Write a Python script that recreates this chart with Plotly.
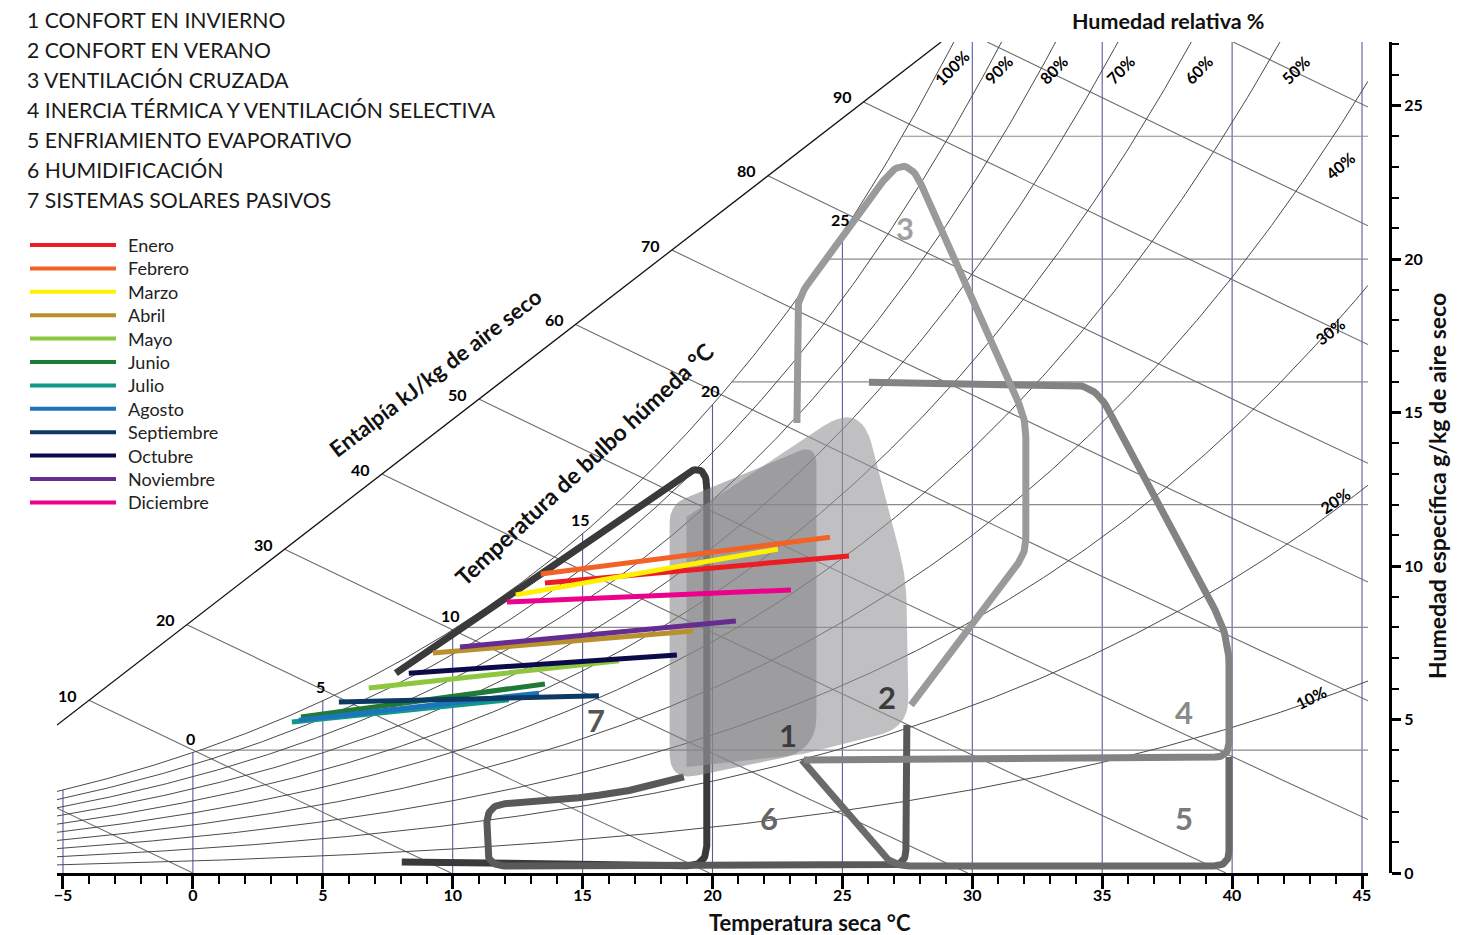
import numpy as np
import plotly.graph_objects as go

# ---------------- data ----------------
MONTHS = ["Enero", "Febrero", "Marzo", "Abril", "Mayo", "Junio", "Julio",
          "Agosto", "Septiembre", "Octubre", "Noviembre", "Diciembre"]
MONTH_COLORS = ["#ed1c24", "#f26227", "#fff200", "#b8902c", "#8dc63f", "#1f7a35",
                "#10998a", "#1c75bc", "#0d3a63", "#0b0b4a", "#662d91", "#ec008c"]
# each month: (T at min temperature, W) -> (T at max temperature, W)
T_LOW = [13.55, 13.39, 12.43, 9.24, 6.77, 4.16, 3.81, 4.08, 5.62, 8.31, 10.28, 12.09]
W_LOW = [9.45, 9.74, 9.06, 7.17, 6.03, 5.08, 4.92, 4.98, 5.57, 6.51, 7.36, 8.83]
T_HIGH = [25.25, 24.52, 22.52, 19.25, 16.40, 13.55, 12.16, 13.32, 15.63, 18.63, 20.90, 23.02]
W_HIGH = [10.33, 10.94, 10.55, 7.88, 6.91, 6.16, 5.64, 5.86, 5.77, 7.10, 8.21, 9.22]

RH_LEVELS = [0.1, 0.2, 0.3, 0.4, 0.5, 0.6, 0.7, 0.8, 0.9, 1.0]
RH_LABELS = ["10%", "20%", "30%", "40%", "50%", "60%", "70%", "80%", "90%", "100%"]
ENTHALPY_LEVELS = [0, 10, 20, 30, 40, 50, 60, 70, 80, 90, 100, 110]
ENTHALPY_LABELED = [10, 20, 30, 40, 50, 60, 70, 80, 90]
WET_BULB_LABELED = [0, 5, 10, 15, 20, 25]
DRY_BULB_LINES = [-5, 0, 5, 10, 15, 20, 25, 30, 35, 40, 45]
HUMIDITY_LINES = [4, 8, 12, 16, 20, 24]

ZONE_NAMES = ["1 CONFORT EN INVIERNO", "2 CONFORT EN VERANO", "3 VENTILACIÓN CRUZADA",
              "4 INERCIA TÉRMICA Y VENTILACIÓN SELECTIVA", "5 ENFRIAMIENTO EVAPORATIVO",
              "6 HUMIDIFICACIÓN", "7 SISTEMAS SOLARES PASIVOS"]

# zone outlines (dry bulb °C, humidity g/kg)
Z1_T = [18.35, 24.0, 24.0, 18.35]
Z1_W = [12.0, 14.0, 3.98, 2.99]
Z2_T = [19.0, 19.0, 25.7, 27.45, 27.56, 23.6]
Z2_W = [3.45, 11.6, 15.36, 9.64, 4.75, 3.88]
Z3_T = [23.25, 23.25, 27.44, 32.06, 32.06, 27.64]
Z3_W = [14.66, 18.7, 23.55, 14.79, 10.42, 5.47]
Z4_T = [26.02, 34.72, 39.88, 39.88, 23.52]
Z4_W = [15.99, 15.9, 7.72, 3.78, 3.68]
Z5_T = [23.44, 26.9, 39.88, 39.88]
Z5_W = [3.68, 0.23, 0.23, 3.78]
Z6_T = [18.9, 17.17, 15.24, 11.32, 11.32, 27.44, 27.48]
Z6_W = [3.13, 2.74, 2.48, 2.21, 0.23, 0.23, 4.82]
Z7_T = [7.81, 19.78, 19.78, 8.04]
Z7_W = [6.51, 13.49, 0.23, 0.36]

# ---------------- geometry ----------------
FIG_W, FIG_H = 1477, 935
OFF = 8  # page body margin
X0_PX, X1_PX = 57, 1368
Y0_PX, Y1_PX = 873, 42
T_MIN, T_MAX = -5.23, 45.23
W_MIN, W_MAX = 0.0, 27.07
SX = (X1_PX - X0_PX) / (T_MAX - T_MIN)
SY = (Y0_PX - Y1_PX) / (W_MAX - W_MIN)
P_ATM = 97.5
DIAG_T = [T_MIN, 28.8]
DIAG_W = [4.82, W_MAX]
FONT = "Lato"


def px(x):
    return (x - OFF) / FIG_W


def py(y):
    return 1 - (y - OFF) / FIG_H


def ps(T):
    return 0.61094 * np.exp(17.625 * T / (T + 243.04))


def w_rh(T, phi):
    pv = phi * ps(T)
    return 622.0 * pv / (P_ATM - pv)


def t_of_w(W, phi=1.0):
    pv = W * P_ATM / (622.0 + W)
    x = np.log(pv / phi / 0.61094)
    return 243.04 * x / (17.625 - x)


def enth(T, W):
    return 1.006 * T + W * (2.501 + 0.00186 * T)


def w_of_h(h, T):
    return (h - 1.006 * T) / (2.501 + 0.00186 * T)


def t_of_h(h, W):
    return (h - 2.501 * W) / (1.006 + 0.00186 * W)


def diag_point(h):
    f = lambda s: enth(DIAG_T[0] + s * (DIAG_T[1] - DIAG_T[0]),
                       DIAG_W[0] + s * (DIAG_W[1] - DIAG_W[0])) - h
    lo, hi = 0.0, 1.0
    for _ in range(60):
        mid = 0.5 * (lo + hi)
        if f(mid) < 0:
            lo = mid
        else:
            hi = mid
    s = 0.5 * (lo + hi)
    return DIAG_T[0] + s * (DIAG_T[1] - DIAG_T[0]), DIAG_W[0] + s * (DIAG_W[1] - DIAG_W[0])


def rounded(ts, ws, radii, closed=False):
    pts = [np.array([t * SX, w * SY]) for t, w in zip(ts, ws)]
    n = len(pts)
    out = []
    for i in range(n):
        v = pts[i]
        if (not closed and (i == 0 or i == n - 1)) or radii[i] <= 0:
            out.append(v)
            continue
        prev = pts[i - 1]
        nxt = pts[(i + 1) % n]
        d1 = np.linalg.norm(prev - v)
        d2 = np.linalg.norm(nxt - v)
        r1 = min(radii[i], d1 * 0.5)
        r2 = min(radii[i], d2 * 0.5)
        a = v + (prev - v) * r1 / d1
        b = v + (nxt - v) * r2 / d2
        for k in range(17):
            t = k / 16
            out.append((1 - t) ** 2 * a + 2 * (1 - t) * t * v + t ** 2 * b)
    if closed:
        out.append(out[0])
    arr = np.array(out)
    return arr[:, 0] / SX, arr[:, 1] / SY


fig = go.Figure()


def add_line(T, W, color, width):
    fig.add_trace(go.Scatter(x=list(T), y=list(W), mode="lines",
                             line=dict(color=color, width=width),
                             hoverinfo="skip", showlegend=False))


# ---------------- psychrometric grid ----------------
for t in DRY_BULB_LINES:
    add_line([t, t], [0, min(w_rh(t, 1.0), W_MAX)], "#5b5b9c", 1.1)

for w in HUMIDITY_LINES:
    add_line([t_of_w(w), T_MAX], [w, w], "#8a8a8a", 1.2)

h_diag_lo = enth(DIAG_T[0], DIAG_W[0])
h_diag_hi = enth(DIAG_T[1], DIAG_W[1])
for h in ENTHALPY_LEVELS:
    if h < h_diag_lo:
        t0 = T_MIN
    elif h > h_diag_hi:
        t0 = t_of_h(h, W_MAX)
    else:
        t0 = diag_point(h)[0]
    t1 = min(h / 1.006, T_MAX)
    tt = np.linspace(t0, t1, 40)
    add_line(tt, w_of_h(h, tt), "#6e6e6e", 1.1)

for phi in RH_LEVELS:
    t_end = min(T_MAX, t_of_w(W_MAX, phi))
    tt = np.linspace(T_MIN, t_end, 300)
    add_line(tt, w_rh(tt, phi), "#4a4a4a", 1.0)

add_line(DIAG_T, DIAG_W, "#111111", 1.3)

# ---------------- zone outlines ----------------
zx, zy = rounded(Z7_T, Z7_W, [0, 30, 20, 0])
add_line(zx, zy, "#3a3a3a", 7)
zx, zy = rounded(Z6_T, Z6_W, [0, 10, 10, 18, 18, 16, 0])
add_line(zx, zy, "#595959", 7)
zx, zy = rounded(Z5_T, Z5_W, [0, 18, 15, 0])
add_line(zx, zy, "#6a6a6a", 7)
zx, zy = rounded(Z4_T, Z4_W, [0, 25, 30, 14, 0])
add_line(zx, zy, "#838383", 7)
zx, zy = rounded(Z3_T, Z3_W, [0, 18, 38, 18, 14, 0])
add_line(zx, zy, "#9a9a9a", 7)

# ---------------- comfort fills ----------------
zx, zy = rounded(Z2_T, Z2_W, [0, 0, 45, 25, 30, 10], closed=True)
fig.add_trace(go.Scatter(x=list(zx), y=list(zy), mode="lines", fill="toself",
                         fillcolor="rgba(150,150,153,0.6)", line=dict(width=0),
                         hoverinfo="skip", showlegend=False))
zx, zy = rounded(Z1_T, Z1_W, [18, 22, 35, 28], closed=True)
fig.add_trace(go.Scatter(x=list(zx), y=list(zy), mode="lines", fill="toself",
                         fillcolor="rgba(128,128,131,0.55)", line=dict(width=0),
                         hoverinfo="skip", showlegend=False))

# ---------------- monthly lines ----------------
for i, m in enumerate(MONTHS):
    fig.add_trace(go.Scatter(x=[T_LOW[i], T_HIGH[i]], y=[W_LOW[i], W_HIGH[i]], mode="lines",
                             line=dict(color=MONTH_COLORS[i], width=5), name=m,
                             showlegend=False))

# ---------------- annotations ----------------
ann = []


def note(x, y, text, size, color="#111", bold=False, angle=0, ref="paper", xshift=0, yshift=0,
         xanchor="center"):
    ann.append(dict(x=x, y=y, xref="x" if ref == "data" else "paper",
                    yref="y" if ref == "data" else "paper", text=text, showarrow=False,
                    textangle=angle, xanchor=xanchor, yanchor="middle", xshift=xshift, yshift=yshift,
                    font=dict(family=FONT, size=size, color=color,
                              weight="bold" if bold else "normal")))


for h in ENTHALPY_LABELED:
    t, w = diag_point(h)
    note(t, w, str(h), 16, "#000", True, ref="data", xshift=-21, yshift=5)
for t in WET_BULB_LABELED:
    note(t, w_rh(t, 1.0), str(t), 16, "#000", True, ref="data", xshift=-2, yshift=14)

RH_LABEL_POS = {"100%": (29.21, 26.25, -45), "90%": (31.02, 26.16, -45), "80%": (33.14, 26.16, -45),
                "70%": (35.72, 26.16, -45), "60%": (38.72, 26.16, -45), "50%": (42.46, 26.16, -45),
                "40%": (44.15, 23.06, -40), "30%": (43.76, 17.65, -38), "20%": (43.96, 12.15, -34),
                "10%": (43.03, 5.73, -26)}
for lab in RH_LABELS:
    x, y, a = RH_LABEL_POS[lab]
    note(x, y, lab, 16, "#000", True, angle=a, ref="data")

ZONE_NUM_POS = [("1", 22.9, 4.5, "#3c3c3c"), ("2", 26.71, 5.73, "#3c3c3c"), ("3", 27.41, 21.0, "#a0a0a0"),
                ("4", 38.14, 5.24, "#8a8a8a"), ("5", 38.14, 1.79, "#7a7a7a"), ("6", 22.17, 1.79, "#666666"),
                ("7", 15.51, 4.98, "#555555")]
for s, x, y, c in ZONE_NUM_POS:
    note(x, y, s, 31, c, True, ref="data")

for i, s in enumerate(ZONE_NAMES):
    note(px(25), py(20 + 30 * i), s, 21.2, "#1a1a1a", xanchor="left")

shapes = []
for i, m in enumerate(MONTHS):
    yy = 245 + 23.4 * i
    shapes.append(dict(type="line", xref="paper", yref="paper", x0=px(30), x1=px(116),
                       y0=py(yy), y1=py(yy), line=dict(color=MONTH_COLORS[i], width=4)))
    note(px(126), py(yy), m, 18, "#222", xanchor="left")

note(px(1168), py(21), "Humedad relativa %", 21.5, "#111", True)
note(px(810), py(922), "Temperatura seca °C", 22, "#111", True)
note(px(1437), py(486), "Humedad específica g/kg de aire seco", 23, "#111", True, angle=-90)
note(px(435), py(372), "Entalpía kJ/kg de aire seco", 22, "#111", True, angle=-37.5)
note(px(584), py(464), "Temperatura de bulbo húmeda °C", 23, "#111", True, angle=-43)

tickfont = dict(family=FONT, size=16, color="#000", weight="bold")
fig.update_layout(
    width=FIG_W, height=FIG_H, template="none",
    margin=dict(l=0, r=0, t=0, b=0),
    paper_bgcolor="white", plot_bgcolor="white",
    showlegend=False,
    annotations=ann, shapes=shapes,
    xaxis=dict(domain=[px(X0_PX), px(X1_PX)], range=[T_MIN, T_MAX], showgrid=False, zeroline=False,
               showline=True, linecolor="#000", linewidth=3, ticks="outside", ticklen=13,
               tickwidth=3, tickcolor="#000", tickvals=DRY_BULB_LINES, tickfont=tickfont,
               ticklabelstandoff=-7,
               minor=dict(dtick=1, ticks="outside", ticklen=8, tickwidth=2, tickcolor="#000", showgrid=False),
               automargin=False, fixedrange=True),
    yaxis=dict(domain=[py(Y0_PX), py(Y1_PX)], range=[W_MIN, W_MAX], visible=False,
               showgrid=False, zeroline=False, automargin=False, fixedrange=True),
    yaxis2=dict(overlaying="y", side="right", anchor="free", position=px(1390),
                range=[W_MIN, W_MAX], showgrid=False, zeroline=False, showline=True,
                linecolor="#000", linewidth=3, ticks="outside", ticklen=9, tickwidth=3,
                tickcolor="#000", tickvals=[0, 5, 10, 15, 20, 25], tickfont=tickfont,
                minor=dict(dtick=1, ticks="outside", ticklen=7, tickwidth=2, tickcolor="#000", showgrid=False),
                automargin=False, fixedrange=True),
)
fig.add_trace(go.Scatter(x=[T_MIN], y=[W_MIN], yaxis="y2", mode="markers",
                         marker=dict(opacity=0), hoverinfo="skip", showlegend=False))

fig.write_html("out.html")
